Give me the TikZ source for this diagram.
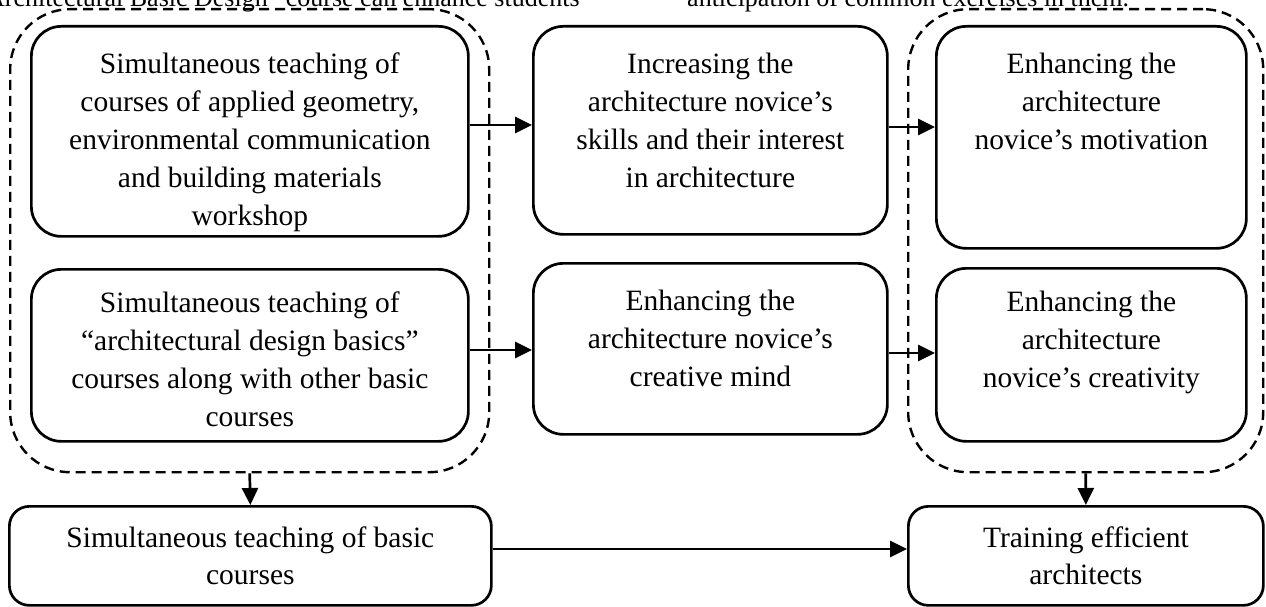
\documentclass[tikz,border=0pt]{standalone}
\usepackage{fontspec}
\setmainfont{Liberation Serif}
\usetikzlibrary{arrows.meta}
\tikzset{
  box/.style={draw, line width=2.7pt, rounded corners=30pt, inner sep=0pt, anchor=north west},
  lowbox/.style={draw, line width=2.7pt, rounded corners=20pt, inner sep=0pt, anchor=north west,
    align=center, font=\fontsize{29.5}{37}\selectfont},
  grp/.style={draw, line width=2.4pt, dash pattern=on 10pt off 6pt, rounded corners=60pt, inner sep=0pt, anchor=north west},
  txt/.style={align=center, inner sep=0pt, anchor=north, font=\fontsize{29.5}{38}\selectfont},
  toptxt/.style={inner sep=0pt, anchor=base west, font=\fontsize{26}{30}\selectfont},
  arr/.style={line width=2.7pt, -{Triangle[length=17pt,width=16pt]}}
}
\begin{document}
\begin{tikzpicture}[x=1pt,y=-1pt]
\useasboundingbox (0,0) rectangle (1266,607);
\begin{scope}
\clip (0,0) rectangle (1266,607);
\node[toptxt] (capL) at (-14,7) {Architectural Basic Design” course can enhance students};
\node[toptxt] (capR) at (687,7) {anticipation of common exercises in them.};
\end{scope}
% dashed groups
\node[grp, minimum width=479pt, minimum height=463pt] (dl) at (9,8) {};
\node[grp, minimum width=355pt, minimum height=463pt] (dr) at (907,8) {};
% boxes
\node[box, minimum width=437pt, minimum height=210pt] (a) at (30,25) {};
\node[txt] (ta) at ([yshift=-28pt]a.north) {Simultaneous teaching of\\courses of applied geometry,\\environmental communication\\and building materials\\workshop};
\node[box, minimum width=437pt, minimum height=172pt] (b) at (30,268) {};
\node[txt] (tb) at ([yshift=-24pt]b.north) {Simultaneous teaching of\\“architectural design basics”\\courses along with other basic\\courses};
\node[box, minimum width=354pt, minimum height=208pt] (m1) at (532,25) {};
\node[txt] (tm1) at ([yshift=-28pt]m1.north) {Increasing the\\architecture novice’s\\skills and their interest\\in architecture};
\node[box, minimum width=354pt, minimum height=171pt] (m2) at (532,262) {};
\node[txt] (tm2) at ([yshift=-28pt]m2.north) {Enhancing the\\architecture novice’s\\creative mind};
\node[box, minimum width=310pt, minimum height=222pt] (r1) at (935,25) {};
\node[txt] (tr1) at ([yshift=-28pt]r1.north) {Enhancing the\\architecture\\novice’s motivation};
\node[box, minimum width=310pt, minimum height=173pt] (r2) at (935,267) {};
\node[txt] (tr2) at ([yshift=-24pt]r2.north) {Enhancing the\\architecture\\novice’s creativity};
\node[lowbox, minimum width=482pt, minimum height=99pt] (bl) at (8,505) {Simultaneous teaching of basic\\courses};
\node[lowbox, minimum width=355pt, minimum height=99pt] (br) at (907,505) {Training efficient\\architects};
% helper coordinates for arrow heights
\coordinate (y1) at (0,125);
\coordinate (y2) at (0,127);
\coordinate (y3) at (0,350);
\coordinate (y4) at (0,353);
\coordinate (y5) at (0,549);
% arrows
\draw[arr] (a.east |- y1) -- (m1.west |- y1);
\draw[arr] (m1.east |- y2) -- (r1.west |- y2);
\draw[arr] (b.east |- y3) -- (m2.west |- y3);
\draw[arr] (m2.east |- y4) -- (r2.west |- y4);
\draw[arr] (dl.south) -- (bl.north);
\draw[arr] (dr.south) -- (br.north);
\draw[arr] (bl.east |- y5) -- (br.west |- y5);
\end{tikzpicture}
\end{document}
